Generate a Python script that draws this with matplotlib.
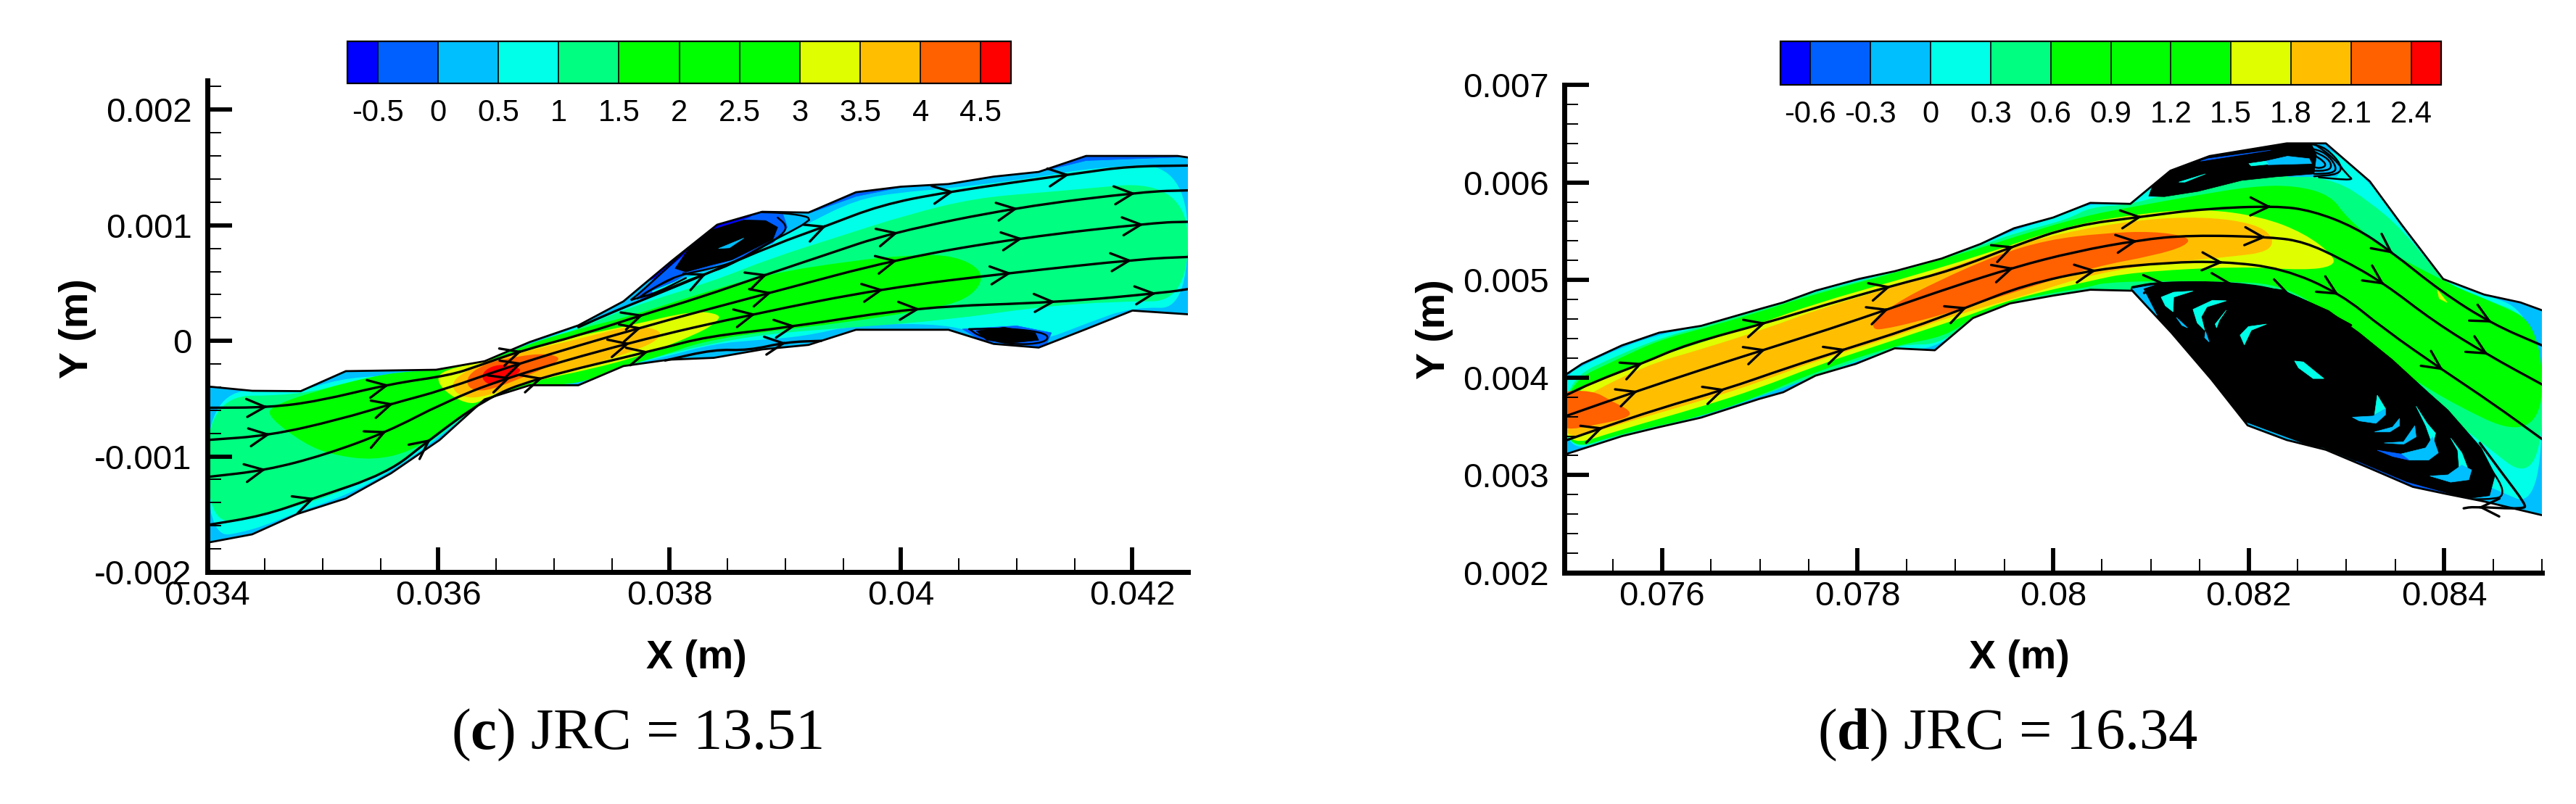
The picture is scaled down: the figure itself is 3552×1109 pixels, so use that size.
import numpy as np
import matplotlib
matplotlib.use('Agg')
import matplotlib.pyplot as plt
from matplotlib.path import Path
from matplotlib.patches import PathPatch, Polygon
from matplotlib.colors import ListedColormap, BoundaryNorm
from matplotlib.cm import ScalarMappable
from matplotlib.ticker import MultipleLocator

plt.rcParams['font.family'] = ['Liberation Sans', 'DejaVu Sans']
plt.rcParams['mathtext.fontset'] = 'custom'
plt.rcParams['mathtext.rm'] = 'Liberation Serif'
plt.rcParams['mathtext.bf'] = 'Liberation Serif:bold'

W, H = 3552, 1109

# band colours, low to high
BLUE, ROYAL, SKY, CYAN, SPRING, GREEN, YELLOW, ORANGE, REDOR, RED = (
    '#0000ff', '#0060ff', '#00bfff', '#00ffe8', '#00ff80', '#00ff00',
    '#dfff00', '#ffbf00', '#ff6000', '#ff0000')
band_colors = [BLUE, ROYAL, SKY, CYAN, SPRING, GREEN, GREEN, GREEN, YELLOW, ORANGE, REDOR, RED]

c_levels = [-0.75, -0.5, 0, 0.5, 1, 1.5, 2, 2.5, 3, 3.5, 4, 4.5, 4.75]
c_ticks = [-0.5, 0, 0.5, 1, 1.5, 2, 2.5, 3, 3.5, 4, 4.5]
c_ticklabels = ['-0.5', '0', '0.5', '1', '1.5', '2', '2.5', '3', '3.5', '4', '4.5']
d_levels = [-0.75, -0.6, -0.3, 0, 0.3, 0.6, 0.9, 1.2, 1.5, 1.8, 2.1, 2.4, 2.55]
d_ticks = [-0.6, -0.3, 0, 0.3, 0.6, 0.9, 1.2, 1.5, 1.8, 2.1, 2.4]
d_ticklabels = ['-0.6', '-0.3', '0', '0.3', '0.6', '0.9', '1.2', '1.5', '1.8', '2.1', '2.4']

c_xticks = [0.034, 0.036, 0.038, 0.04, 0.042]
c_xlabels = ['0.034', '0.036', '0.038', '0.04', '0.042']
c_yticks = [-0.002, -0.001, 0, 0.001, 0.002]
c_ylabels = ['-0.002', '-0.001', '0', '0.001', '0.002']
d_xticks = [0.076, 0.078, 0.08, 0.082, 0.084]
d_xlabels = ['0.076', '0.078', '0.08', '0.082', '0.084']
d_yticks = [0.002, 0.003, 0.004, 0.005, 0.006, 0.007]
d_ylabels = ['0.002', '0.003', '0.004', '0.005', '0.006', '0.007']

c_top = [(34.00,-0.394),(34.39,-0.432),(34.81,-0.435),(35.20,-0.262),(35.98,-0.25),(36.40,-0.176),
         (36.79,-0.01),(37.21,0.134),(37.60,0.342),(38.02,0.694),(38.41,1.005),(38.80,1.117),
         (39.20,1.11),(39.61,1.286),(40.00,1.334),(40.41,1.357),(40.80,1.421),(41.19,1.462),
         (41.60,1.60),(42.39,1.60),(42.48,1.587)]
c_bottom = [(34.00,-1.747),(34.39,-1.674),(34.78,-1.498),(35.20,-1.363),(35.59,-1.146),(36.01,-0.858),
            (36.40,-0.506),(36.79,-0.384),(37.21,-0.384),(37.60,-0.218),(37.99,-0.163),(38.38,-0.147),
            (38.80,-0.074),(39.20,-0.035),(39.61,0.096),(40.41,0.096),(40.80,-0.026),(41.19,-0.058),
            (41.60,0.102),(42.00,0.262),(42.48,0.23)]

c_cyan = [(34.00,-0.416),(34.78,-0.448),(35.14,-0.33),(35.56,-0.298),(35.98,-0.266),(36.40,-0.186),
          (36.79,-0.026),(37.21,0.118),(37.60,0.294),(38.44,0.614),(39.16,0.998),(39.61,1.222),
          (40.00,1.286),(40.41,1.318),(41.19,1.414),(41.61,1.494),(42.48,1.542),(42.48,0.278),
          (42.00,0.294),(41.60,0.15),(41.19,-0.01),(40.80,0.006),(40.41,0.15),(39.61,0.141),
          (39.16,0.038),(38.74,0.006),(38.38,-0.026),(37.96,-0.138),(37.60,-0.218),(37.21,-0.378),
          (36.79,-0.378),(36.40,-0.506),(35.98,-0.858),(35.59,-1.13),(35.20,-1.338),(34.78,-1.482),
          (34.39,-1.642),(34.00,-1.706)]
c_spring = [(34.00,-0.474),(34.78,-0.474),(35.26,-0.346),(35.62,-0.275),(35.98,-0.256),(36.40,-0.186),
            (36.82,-0.026),(37.21,0.102),(37.66,0.294),(38.38,0.518),(38.86,0.71),(39.46,0.902),
            (40.06,1.094),(40.65,1.238),(41.25,1.286),(42.48,1.398),(42.48,0.342),(41.85,0.342),
            (41.19,0.294),(40.41,0.182),(39.61,0.118),(38.86,0.064),(38.26,-0.042),(37.66,-0.202),
            (37.21,-0.378),(36.79,-0.384),(36.40,-0.506),(36.01,-0.826),(35.59,-1.098),(35.20,-1.29),
            (34.78,-1.434),(34.39,-1.53),(34.00,-1.578)]
c_green = [(40.06,0.742),(40.47,0.742),(40.74,0.582),(40.59,0.358),(40.18,0.262),(39.46,0.15),
           (38.86,0.086),(38.26,-0.01),(37.96,-0.122),(37.54,-0.234),(37.21,-0.378),(36.79,-0.378),
           (36.40,-0.506),(36.04,-0.762),(35.77,-0.954),(35.44,-1.034),(35.08,-0.986),(34.84,-0.89),
           (34.54,-0.666),(34.54,-0.57),(34.96,-0.426),(35.56,-0.275),(35.98,-0.256),(36.40,-0.186),
           (36.82,-0.01),(37.21,0.102),(37.66,0.214),(38.20,0.39),(38.86,0.582),(39.58,0.694)]
c_yellow = [(38.44,0.23),(38.20,0.262),(37.66,0.134),(37.18,0.038),(36.82,-0.058),(36.46,-0.17),
            (36.04,-0.25),(35.98,-0.346),(36.10,-0.474),(36.28,-0.554),(36.40,-0.506),(36.82,-0.346),
            (37.30,-0.25),(37.78,-0.122),(38.26,0.07),(38.41,0.166)]
c_orange = [(37.90,0.102),(37.66,0.134),(37.30,0.038),(36.82,-0.074),(36.46,-0.17),(36.22,-0.266),
            (36.10,-0.378),(36.19,-0.49),(36.40,-0.49),(36.82,-0.33),(37.30,-0.218),(37.78,-0.058),(37.93,0.038)]
c_redorange = [(37.06,-0.138),(36.88,-0.106),(36.58,-0.154),(36.40,-0.202),(36.25,-0.298),(36.25,-0.41),
               (36.40,-0.442),(36.70,-0.33),(37.00,-0.202)]
c_red = [(36.64,-0.218),(36.52,-0.202),(36.40,-0.25),(36.37,-0.33),(36.46,-0.394),(36.64,-0.314),(36.73,-0.25)]

# recirculation zones of panel c
c_royal = [(37.712,0.387),(37.952,0.627),(38.181,0.847),(38.411,1.004),(38.766,1.108),(38.975,1.108),
           (39.017,0.983),(38.892,0.847),(38.578,0.711),(38.369,0.644),(38.14,0.575),(37.889,0.418),(37.764,0.356)]
c_deep = [(37.826,0.523),(38.181,0.836),(38.39,1.0),(38.704,1.077),(38.39,0.962),(38.181,0.795),(37.91,0.565)]
c_gap = [(37.847,0.429),(38.077,0.523),(38.349,0.606),(38.557,0.69),(38.453,0.627),(38.161,0.523),(37.889,0.397)]
c_core = [(38.046,0.627),(38.161,0.795),(38.369,0.962),(38.641,1.046),(38.829,1.041),(38.933,0.983),
          (38.892,0.878),(38.704,0.784),(38.537,0.701),(38.369,0.659),(38.14,0.596)]
c_hole = [(38.422,0.799),(38.641,0.889),(38.516,0.805)]
c_low_patch = [(40.53,0.102),(41.0,0.13),(41.3,0.07),(41.25,-0.05),(40.95,-0.03),(40.7,0.0)]
c_low_core = [(40.65,0.086),(40.89,0.118),(41.16,0.07),(41.19,0.006),(40.95,-0.019),(40.74,0.006)]
c_strip1 = [(41.19,1.46),(41.6,1.59),(42.4,1.59),(41.6,1.56)]
c_strip2 = [(39.22,1.11),(39.61,1.28),(40.0,1.33),(39.61,1.25)]
c_loops = [
    [(39.205,1.046),(39.194,1.077),(38.975,1.108),(38.787,1.113)],
    [(39.205,1.046),(39.121,0.983),(38.787,0.816),(38.516,0.648),(38.265,0.569),(37.91,0.418),
     (37.701,0.366),(37.649,0.345),(37.722,0.397),(37.952,0.606),(38.161,0.805)],
    [(38.933,1.067),(39.006,1.004),(38.996,0.941),(38.871,0.847),(38.578,0.69),(38.369,0.627),
     (38.056,0.565),(37.847,0.45),(37.722,0.366)],
    [(38.035,0.544),(37.805,0.429),(37.743,0.376),(37.889,0.418),(38.14,0.544)],
    [(40.59,0.102),(40.95,0.109),(41.28,0.064),(41.25,-0.019),(40.95,-0.035),(40.68,0.038),(40.59,0.102)],
]

# streamlines: vertices, then the vertices that carry an arrow head
c_lines = [
    ([(34.00,-0.579),(34.54,-0.576),(34.96,-0.522),(35.59,-0.371),(36.10,-0.298),(36.34,-0.218),(36.70,-0.09),
      (37.24,0.054),(37.78,0.23),(38.26,0.374),(38.86,0.582),(39.34,0.742),(39.91,0.934),(41.01,1.158),
      (42.12,1.293),(42.48,1.302)], [1,3,6,8,10,12,13,14]),
    ([(34,-0.858),(34.54,-0.819),(35.14,-0.682),(35.62,-0.538),(36.04,-0.426),(36.67,-0.202),(37.75,0.118),
      (38.89,0.422),(39.97,0.71),(41.04,0.893),(42.21,1.024),(42.48,1.03)], [1,3,5,6,7,8,9,10]),
    ([(34,-1.178),(34.51,-1.12),(35.02,-0.986),(35.56,-0.787),(36.04,-0.538),(36.55,-0.33),(37.66,-0.01),
      (38.74,0.237),(39.85,0.454),(40.95,0.589),(42.09,0.71),(42.48,0.726)], [1,3,5,6,7,8,9,10]),
    ([(34,-1.594),(34.48,-1.514),(34.90,-1.37),(35.56,-1.146),(35.92,-0.858),(36.40,-0.506),(36.82,-0.33),
      (37.90,-0.074),(38.32,0.038),(39.04,0.118),(40.15,0.294),(41.37,0.333),(42.30,0.42),(42.48,0.448)],
     [2,4,6,7,9,10,11,12]),
    ([(37.21,0.118),(37.534,0.261),(37.78,0.36),(38.307,0.575),(38.912,0.836),(39.351,0.993),(39.82,1.174),
      (40.38,1.286),(41.55,1.453),(41.97,1.51),(42.48,1.517)], [3,5,7,8]),
    ([(37.96,-0.17),(38.38,-0.074),(38.68,-0.083),(39.01,-0.01),(39.31,0.0)], [3]),
]

d_top = [(75.00,4.02),(75.18,4.14),(75.59,4.33),(75.97,4.46),(76.40,4.53),(76.99,4.70),(77.24,4.77),(77.57,4.89),
         (78.01,5.01),(78.38,5.09),(78.86,5.22),(79.26,5.37),(79.60,5.53),(80.00,5.64),(80.38,5.79),(80.79,5.78),
         (81.20,6.12),(81.60,6.27),(82.39,6.40),(82.79,6.40),(83.24,6.01),(83.57,5.56),(83.99,5.01),(84.41,4.85),
         (84.78,4.77),(85.00,4.69)]
d_bottom = [(75.00,3.21),(75.59,3.40),(75.96,3.49),(76.40,3.59),(76.99,3.78),(77.24,3.85),(77.57,4.02),(77.98,4.14),
            (78.38,4.30),(78.79,4.28),(79.18,4.61),(79.56,4.76),(80.00,4.84),(80.38,4.90),(80.81,4.89),(81.21,4.46),
            (81.62,3.98),(81.99,3.51),(82.39,3.36),(82.79,3.26),(83.24,3.07),(83.68,2.88),(84.01,2.81),(84.41,2.73),
            (85.00,2.59)]

d_cyan = [(75,4.01),(75.18,4.12),(75.59,4.31),(75.97,4.44),(76.40,4.53),(76.99,4.70),(77.57,4.89),(78.38,5.08),
          (79.26,5.36),(79.60,5.51),(80.00,5.63),(80.38,5.79),(80.79,5.77),(81.20,6.11),(82.39,6.39),(82.79,6.39),
          (83.24,6.01),(83.57,5.55),(83.99,5.00),(84.21,4.92),(85,4.64),(85,2.65),(84.46,2.88),(84.10,3.05),
          (83.24,3.09),(81.99,3.53),(81.18,4.57),(80.81,4.89),(80.38,4.89),(80,4.83),(79.56,4.75),(79.18,4.60),
          (78.79,4.29),(78.38,4.30),(77.57,4.02),(76.40,3.59),(75.59,3.41),(75,3.21)]
d_spring = [(75,3.97),(75.59,4.25),(76.03,4.42),(76.40,4.52),(76.99,4.69),(77.57,4.88),(78.38,5.08),(79.26,5.35),
            (79.60,5.48),(80.15,5.62),(80.38,5.75),(80.81,5.77),(81.47,5.98),(81.84,6.04),(82.43,6.08),(82.9,6.02),
            (83.24,5.80),(83.57,5.52),(83.99,4.99),(84.27,4.86),(85,4.58),(85,2.85),(84.26,3.43),(83.38,4.12),
            (81.91,4.84),(81.18,4.97),(80.81,4.89),(80.38,4.89),(80,4.83),(79.60,4.75),(79.19,4.59),(78.82,4.34),
            (78.53,4.34),(78.38,4.31),(77.57,4.02),(76.40,3.59),(75.59,3.42),(75,3.23)]
d_green = [(75,3.93),(75.59,4.21),(75.96,4.38),(76.40,4.50),(76.99,4.67),(77.57,4.86),(78.38,5.07),(79.26,5.33),
           (79.60,5.44),(80.29,5.65),(80.81,5.75),(81.48,5.87),(82.03,5.96),(82.47,5.97),(82.84,5.87),(83.0,5.64),
           (83.40,5.30),(83.98,5.0),(84.18,4.90),(84.46,4.79),(85,4.54),(85,3.3),(83.84,3.85),(83.0,4.5),(82.4,4.95),
           (81.7,4.99),(81,4.99),(80.5,4.97),(80.38,4.93),(80,4.87),(79.6,4.79),(79.19,4.63),(78.9,4.42),(78.38,4.33),
           (77.57,4.06),(76.99,3.81),(76.40,3.60),(75.59,3.43),(75,3.24)]
d_yellow = [(75,3.81),(75.59,4.08),(75.88,4.19),(76.40,4.36),(76.99,4.55),(77.57,4.76),(78.38,4.99),(79.26,5.25),
            (80.15,5.56),(80.96,5.69),(81.54,5.73),(82.13,5.65),(82.57,5.48),(82.87,5.25),(82.87,5.14),(82.57,5.10),
            (81.91,5.14),(80.81,5.08),(80.37,4.99),(79.56,4.80),(79.12,4.63),(78.60,4.46),(78.24,4.34),(77.57,4.12),
            (76.99,3.89),(76.40,3.70),(75.59,3.47),(75,3.28)]
d_orange = [(75,3.70),(75.81,4.12),(76.40,4.29),(77.06,4.50),(77.65,4.72),(78.38,4.93),(79.41,5.29),(80.07,5.48),
            (80.88,5.62),(81.54,5.65),(82.06,5.58),(82.26,5.44),(82.21,5.29),(81.84,5.24),(81.18,5.18),(80.44,5.07),
            (79.71,4.84),(78.97,4.63),(78.38,4.42),(77.57,4.17),(76.99,3.95),(76.40,3.76),(75.59,3.53),(75,3.34)]
d_redorange = [(78.16,4.50),(78.16,4.57),(78.38,4.76),(78.82,4.99),(79.41,5.25),(79.93,5.41),(80.51,5.48),(81.03,5.50),
               (81.40,5.44),(81.36,5.35),(81.03,5.25),(80.44,5.14),(79.71,4.91),(79.12,4.72),(78.60,4.57),(78.24,4.49)]
d_redorange2 = [(74.9,3.86),(75.29,3.87),(75.48,3.76),(75.68,3.66),(75.66,3.59),(75.40,3.53),(74.9,3.44)]
d_spot = [(83.93,4.90),(84.03,4.77),(83.95,4.81)]

# big recirculation zone of panel d: black where the spiral lines pack together
d_core = [(80.794,4.912),(81.006,4.968),(81.346,4.983),(81.857,4.963),(82.338,4.9),(82.82,4.686),(83.132,4.46),
          (83.472,4.184),(83.841,3.845),(84.039,3.669),(84.379,3.28),(84.521,3.003),(84.464,2.79),(84.181,2.752),
          (83.614,2.928),(83.104,3.141),(82.764,3.28),(82.338,3.342),(81.97,3.481),(81.856,3.656),(81.46,4.159),
          (81.176,4.51),(80.808,4.887)]
d_eye = [(82.47,4.17),(82.56,4.16),(82.72,4.03),(82.77,3.99),(82.66,3.99),(82.51,4.10)]
d_cyan_bits = [
    [(81.105,4.824),(81.233,4.875),(81.431,4.887),(81.233,4.824),(81.227,4.674),(81.148,4.736)],
    [(81.431,4.699),(81.63,4.792),(81.772,4.787),(81.573,4.724),(81.516,4.623),(81.55,4.485),(81.474,4.561)],
    [(81.913,4.435),(81.998,4.523),(82.183,4.548),(82.027,4.485),(81.956,4.335)],
    [(81.658,4.548),(81.772,4.691),(81.70,4.586),(81.672,4.51)],
    [(83.316,3.82),(83.4,3.681),(83.288,3.619)],
    [(83.713,3.707),(83.826,3.531),(83.912,3.43),(83.883,3.305),(83.812,3.506)],
    [(84.067,3.38),(84.181,3.229),(84.238,3.079),(84.153,3.079),(84.139,3.254)],
]
d_sky_bits = [
    [(81.261,4.616),(81.375,4.51),(81.318,4.535)],
    [(81.559,4.473),(81.596,4.365),(81.55,4.41)],
    [(83.061,3.594),(83.274,3.606),(83.4,3.681),(83.4,3.619),(83.302,3.531),(83.132,3.556)],
    [(83.288,3.443),(83.472,3.493),(83.543,3.581),(83.543,3.506),(83.444,3.443)],
    [(83.387,3.33),(83.585,3.342),(83.699,3.506),(83.713,3.393),(83.585,3.317)],
    [(83.557,3.217),(83.812,3.28),(83.883,3.393),(83.94,3.229),(83.84,3.154),(83.642,3.154)],
    [(83.855,2.991),(84.039,3.003),(84.181,3.104),(84.28,3.053),(84.252,2.953),(84.067,2.928)],
    [(81.46,4.171),(81.856,3.656),(81.828,3.66),(81.44,4.14)],
    [(81.927,3.556),(82.707,3.267),(82.338,3.33),(81.97,3.468)],
    [(80.808,4.912),(81.035,4.95),(80.921,4.912),(81.063,4.636),(81.006,4.686)],
]
d_royal_bits = [
    [(83.316,3.255),(83.557,3.217),(83.642,3.154),(83.472,3.192)],
    [(83.104,3.141),(83.614,2.928),(84.296,2.739),(84.209,2.714),(83.601,2.89),(83.104,3.116)],
]
# small recirculation zone at the top of panel d
d_top_patch = [(82.224,6.342),(82.768,6.379),(82.965,6.156),(82.9,6.06),(82.4,6.06)]
d_top_core = [(80.978,5.859),(81.015,5.958),(81.187,6.119),(81.582,6.268),(82.348,6.404),(82.644,6.392),(82.694,6.28),
              (82.669,6.087),(82.274,6.057),(81.928,6.02),(81.484,5.908),(81.138,5.854)]
d_top_sky = [(82.175,6.218),(82.397,6.268),(82.62,6.243),(82.644,6.193),(82.2,6.181)]
d_top_cyan = [[(82.002,6.193),(82.175,6.218),(82.2,6.186),(82.027,6.169)],
              [(81.286,6.003),(81.558,6.087),(81.348,6.003)]]
d_top_royal = [(81.508,6.218),(82.224,6.33),(81.582,6.243)]
d_loops = [
    [(82.644,6.392),(82.792,6.354),(82.953,6.181),(82.928,6.082),(82.669,6.062)],
    [(82.62,6.354),(82.792,6.305),(82.903,6.156),(82.866,6.094),(82.669,6.087)],
    [(82.669,6.317),(82.817,6.243),(82.854,6.156),(82.792,6.119),(82.669,6.119)],
    [(82.669,6.28),(82.768,6.218),(82.792,6.169),(82.731,6.144),(82.669,6.156)],
    [(82.694,6.379),(82.866,6.255),(83.015,6.07),(83.076,6.02),(82.718,6.052)],
    [(84.351,3.229),(84.578,2.928),(84.606,2.79),(84.521,2.757),(84.296,2.752)],
]
d_lines = [
    ([(75,3.81),(75.29,3.95),(75.81,4.15),(76.25,4.34),(77.10,4.57),(77.65,4.74),(78.35,4.94),(78.97,5.10),(79.60,5.35),
      (80.22,5.56),(80.92,5.65),(81.54,5.73),(82.28,5.76),(82.65,5.71),(83.09,5.54),(83.46,5.29),(83.97,4.88),(84.49,4.55),
      (85,4.33)], [2,4,6,8,10,12,15,17]),
    ([(75,3.60),(75.77,3.87),(76.40,4.08),(77.06,4.29),(77.72,4.50),(78.31,4.70),(78.97,4.93),(79.60,5.13),(80.22,5.29),
      (80.88,5.41),(81.40,5.46),(82.24,5.44),(82.57,5.39),(82.94,5.22),(83.38,4.97),(83.90,4.57),(84.45,4.23),(85,3.93)],
     [1,3,5,7,9,11,14,16]),
    ([(75,3.35),(75.37,3.48),(75.96,3.68),(76.65,3.88),(77.28,4.10),(77.87,4.29),(78.53,4.50),(79.12,4.72),(79.71,4.95),
      (80.44,5.11),(81.18,5.18),(81.73,5.19),(82.35,5.12),(82.94,4.86),(83.38,4.50),(84.01,4.06),(84.49,3.74),(85,3.37)],
     [1,3,5,7,9,11,13,15]),
    ([(80.81,4.925),(81.077,4.975),(81.857,4.975),(82.423,4.875),(83.047,4.536)], [1,2,3]),
    ([(84.365,3.33),(84.606,3.003),(84.833,2.702),(84.819,2.651),(84.296,2.677),(84.2,2.66)], [4]),
]


def to_m(pts):
    return np.array(pts, dtype=float) * 1e-3


def smooth(pts, closed=False):
    # quadratic bezier through the midpoints, control points stay the read values
    p = to_m(pts)
    if closed:
        m = (p + np.roll(p, -1, axis=0)) / 2
        verts = [m[-1]]
        codes = [Path.MOVETO]
        for i in range(len(p)):
            verts += [p[i], m[i]]
            codes += [Path.CURVE3, Path.CURVE3]
        return Path(verts, codes)
    m = (p[:-1] + p[1:]) / 2
    verts = [p[0], m[0]]
    codes = [Path.MOVETO, Path.LINETO]
    for i in range(1, len(p) - 1):
        verts += [p[i], m[i]]
        codes += [Path.CURVE3, Path.CURVE3]
    verts.append(p[-1])
    codes.append(Path.LINETO)
    return Path(verts, codes)


def band(ax, pts, color, clip, z=1.1):
    patch = PathPatch(smooth(pts, closed=True), fc=color, ec='none', zorder=z)
    ax.add_patch(patch)
    patch.set_clip_path(clip)


def solid(ax, pts, color, clip=None, z=1.3):
    patch = Polygon(to_m(pts), closed=True, fc=color, ec=color, lw=0.5, zorder=z)
    ax.add_patch(patch)
    if clip is not None:
        patch.set_clip_path(clip)


def stream(ax, pts, heads=(), lw=2.4):
    ax.add_patch(PathPatch(smooth(pts), fc='none', ec='black', lw=lw, zorder=3, capstyle='round'))
    p = to_m(pts)
    for i in heads:
        m1 = (p[i - 1] + p[i]) / 2
        m2 = (p[i] + p[i + 1]) / 2
        tip = 0.25 * m1 + 0.5 * p[i] + 0.25 * m2
        tail = tip - (m2 - m1) * 0.05
        ax.annotate('', xy=tip, xytext=tail, zorder=3,
                    arrowprops=dict(arrowstyle='->,head_length=0.55,head_width=0.27', mutation_scale=33,
                                    lw=lw, color='black', shrinkA=0, shrinkB=0))


def setup_axes(box, xlim, ylim, xticks, xlabels, yticks, ylabels, ypad):
    l, r, b, t = box
    ax = fig.add_axes([l / W, 1 - b / H, (r - l) / W, (b - t) / H])
    ax.set_xlim(xlim)
    ax.set_ylim(ylim)
    ax.spines['top'].set_visible(False)
    ax.spines['right'].set_visible(False)
    ax.spines['left'].set_linewidth(5)
    ax.spines['bottom'].set_linewidth(5)
    ax.set_xticks(xticks)
    ax.set_xticklabels(xlabels)
    ax.set_yticks(yticks)
    ax.set_yticklabels(ylabels)
    ax.xaxis.set_minor_locator(MultipleLocator(0.0005))
    ax.yaxis.set_minor_locator(MultipleLocator(0.0002))
    ax.tick_params(which='major', direction='in', length=24.5, width=4.2, labelsize=34)
    ax.tick_params(which='minor', direction='in', length=14, width=1.4)
    ax.tick_params(axis='x', which='major', pad=8)
    ax.tick_params(axis='y', which='major', pad=ypad)
    return ax


def colour_bar(box, levels, ticks, labels):
    l, r, b, t = box
    cax = fig.add_axes([l / W, 1 - b / H, (r - l) / W, (b - t) / H])
    sm = ScalarMappable(BoundaryNorm(levels, len(band_colors)), ListedColormap(band_colors))
    cb = fig.colorbar(sm, cax=cax, orientation='horizontal', spacing='proportional',
                      ticks=ticks, drawedges=True)
    cb.ax.set_xticklabels(labels)
    cb.ax.tick_params(length=0, labelsize=30, pad=15)
    cb.ax.minorticks_off()
    cb.outline.set_linewidth(1.6)
    cb.dividers.set_linewidth(1.2)
    cb.dividers.set_color('black')


fig = plt.figure(figsize=(W / 100, H / 100), dpi=100)

# ---- panel c
ax1 = setup_axes((285.5, 1638, 789, 111), (0.034, 0.04248), (-0.002, 0.002253),
                 c_xticks, c_xlabels, c_yticks, c_ylabels, 15)
wall = Polygon(to_m(c_top + c_bottom[::-1]), closed=True, fc=SKY, ec='none', zorder=1)
ax1.add_patch(wall)
for pts, col in [(c_cyan, CYAN), (c_spring, SPRING), (c_green, GREEN), (c_yellow, YELLOW),
                 (c_orange, ORANGE), (c_redorange, REDOR), (c_red, RED)]:
    band(ax1, pts, col, wall)
for pts, col in [(c_strip1, ROYAL), (c_strip2, ROYAL), (c_royal, ROYAL), (c_deep, BLUE), (c_gap, CYAN),
                 (c_core, 'black'), (c_hole, SKY), (c_low_patch, ROYAL), (c_low_core, 'black')]:
    solid(ax1, pts, col, wall)
for loop in c_loops:
    stream(ax1, loop, lw=1.8)
for pts, heads in c_lines:
    stream(ax1, pts, heads)
for w in (c_top, c_bottom):
    ax1.plot(*to_m(w).T, color='black', lw=2, zorder=3)

# ---- panel d
ax2 = setup_axes((2157, 3505, 790, 117), (0.075, 0.085), (0.002, 0.007),
                 d_xticks, d_xlabels, d_yticks, d_ylabels, 15)
wall2 = Polygon(to_m(d_top + d_bottom[::-1]), closed=True, fc=SKY, ec='none', zorder=1)
ax2.add_patch(wall2)
for pts, col in [(d_cyan, CYAN), (d_spring, SPRING), (d_green, GREEN), (d_yellow, YELLOW),
                 (d_orange, ORANGE), (d_redorange, REDOR), (d_redorange2, REDOR)]:
    band(ax2, pts, col, wall2)
solid(ax2, d_spot, YELLOW, wall2)
solid(ax2, d_top_patch, SKY, wall2)
for pts, col in [(d_core, 'black'), (d_top_core, 'black'), (d_top_sky, SKY), (d_top_royal, ROYAL)]:
    solid(ax2, pts, col, wall2)
for bits, col in [(d_cyan_bits, CYAN), (d_sky_bits, SKY), (d_royal_bits, ROYAL), (d_top_cyan, CYAN)]:
    for pts in bits:
        solid(ax2, pts, col, wall2, z=1.4)
solid(ax2, d_eye, CYAN, wall2, z=1.4)
for loop in d_loops:
    stream(ax2, loop, lw=1.8)
for pts, heads in d_lines:
    stream(ax2, pts, heads)
for w in (d_top, d_bottom):
    ax2.plot(*to_m(w).T, color='black', lw=2, zorder=3)

colour_bar((479, 1394, 115, 57), c_levels, c_ticks, c_ticklabels)
colour_bar((2455, 3366, 117, 57), d_levels, d_ticks, d_ticklabels)

label_font = dict(fontsize=40, fontweight='bold', ha='center', va='center')
fig.text(960 / W, 1 - 908 / H, 'X (m)', **label_font)
fig.text(2784 / W, 1 - 908 / H, 'X (m)', **label_font)
fig.text(107 / W, 1 - 453 / H, 'Y (m)', rotation=90, **label_font)
fig.text(1978 / W, 1 - 454 / H, 'Y (m)', rotation=90, **label_font)

fig.text(878 / W, 1 - 1033 / H, r'($\mathbf{c}$) JRC = 13.51', family='Liberation Serif',
         fontsize=58, ha='center', va='baseline')
fig.text(2768 / W, 1 - 1033 / H, r'($\mathbf{d}$) JRC = 16.34', family='Liberation Serif',
         fontsize=58, ha='center', va='baseline')

fig.savefig('out.png', dpi=100)
